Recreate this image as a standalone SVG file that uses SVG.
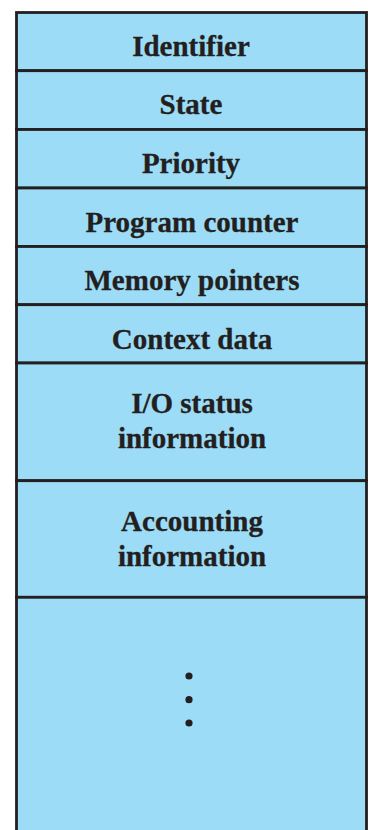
<svg xmlns="http://www.w3.org/2000/svg" width="369" height="830" viewBox="0 0 369 830">
<style>
.row{fill:#9ddcf7;stroke:#231f20;stroke-width:2.8}
.t{font-family:"Liberation Serif","Times New Roman",serif;font-weight:bold;font-size:29px;fill:#231f20;stroke:#231f20;stroke-width:0.3;text-anchor:middle}
.dot{fill:#231f20}
</style>
<rect width="369" height="830" fill="#ffffff"/>
<g id="identifier"><rect class="row" x="16.5" y="12.5" width="350" height="58.2"/><text class="t" x="191" y="55.5">Identifier</text></g>
<g id="state"><rect class="row" x="16.5" y="70.7" width="350" height="58.8"/><text class="t" x="191" y="114.3">State</text></g>
<g id="priority"><rect class="row" x="16.5" y="129.5" width="350" height="58.5"/><text class="t" x="191" y="172.9">Priority</text></g>
<g id="program-counter"><rect class="row" x="16.5" y="188" width="350" height="58.5"/><text class="t" x="192" y="231.5">Program counter</text></g>
<g id="memory-pointers"><rect class="row" x="16.5" y="246.5" width="350" height="58.2"/><text class="t" x="192" y="290">Memory pointers</text></g>
<g id="context-data"><rect class="row" x="16.5" y="304.7" width="350" height="58.3"/><text class="t" x="192" y="348.5">Context data</text></g>
<g id="io-status"><rect class="row" x="16.5" y="363" width="350" height="117.7"/><text class="t" x="192" y="413">I/O status</text><text class="t" x="192" y="448">information</text></g>
<g id="accounting"><rect class="row" x="16.5" y="480.7" width="350" height="116.6"/><text class="t" x="192" y="530.5">Accounting</text><text class="t" x="192" y="565.5">information</text></g>
<g id="more"><rect class="row" x="16.5" y="597.3" width="350" height="250"/><circle class="dot" cx="189" cy="676" r="3.6"/><circle class="dot" cx="189" cy="699.7" r="3.6"/><circle class="dot" cx="189" cy="723" r="3.6"/></g>
<g id="connectors"></g>
</svg>
